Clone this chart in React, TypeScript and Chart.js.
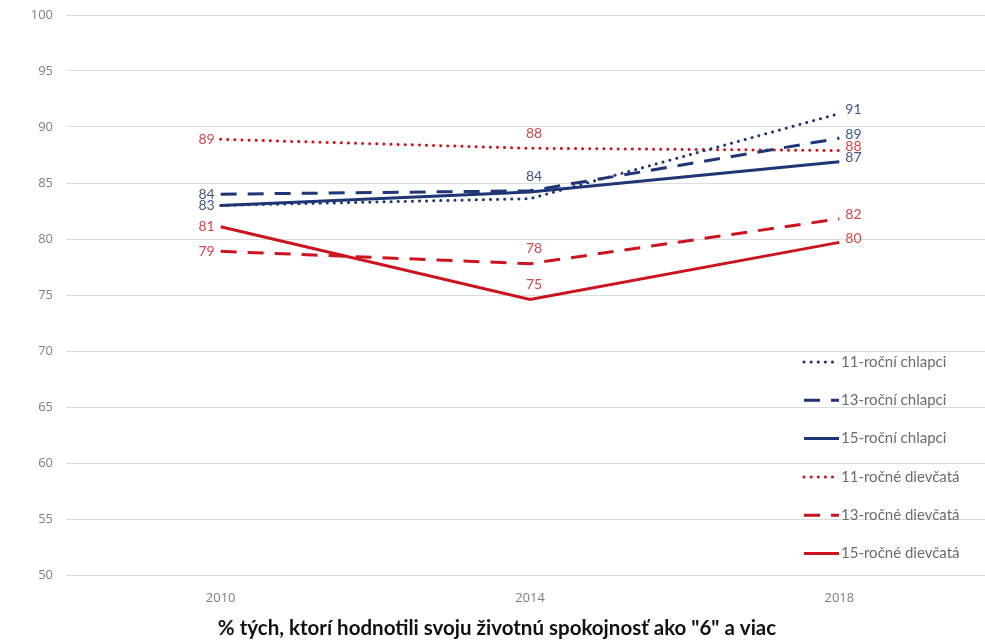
import React, { useEffect, useRef } from "react";
import { Chart, registerables } from "chart.js";

Chart.register(...registerables);

const years = ["2010", "2014", "2018"];
const seriesNames = [
  "11-roční chlapci",
  "13-roční chlapci",
  "15-roční chlapci",
  "11-ročné dievčatá",
  "13-ročné dievčatá",
  "15-ročné dievčatá",
];
const boys11 = [83.0, 83.6, 91.2];
const boys13 = [84.0, 84.3, 89.0];
const boys15 = [83.0, 84.2, 86.9];
const girls11 = [88.9, 88.1, 87.9];
const girls13 = [78.9, 77.8, 81.8];
const girls15 = [81.1, 74.6, 79.7];
const showBoys11 = [false, false, true];
const showBoys13 = [true, false, true];
const showBoys15 = [true, true, true];
const showGirls11 = [true, true, true];
const showGirls13 = [true, true, true];
const showGirls15 = [true, true, true];
const yTicks = [50, 55, 60, 65, 70, 75, 80, 85, 90, 95, 100];
const titleText = '% tých, ktorí hodnotili svoju životnú spokojnosť ako "6" a viac';

const NAVY = "#1f3676";
const RED = "#cc1420";
const NAVY_LBL = "#40558a";
const RED_LBL = "#d6434a";
const DOT = [0.1, 7];
const DASH = [16, 11];

const valueLabels = {
  id: "valueLabels",
  afterDatasetsDraw(chart: any) {
    const ctx = chart.ctx;
    ctx.save();
    ctx.font = '14px Lato';
    chart.data.datasets.forEach((ds: any, di: number) => {
      const meta = chart.getDatasetMeta(di);
      meta.data.forEach((pt: any, i: number) => {
        if (!ds.showLabels[i]) return;
        const txt = String(Math.round(ds.data[i]));
        ctx.fillStyle = ds.labelColor;
        if (i === 0) {
          ctx.textAlign = "right";
          ctx.textBaseline = "middle";
          ctx.fillText(txt, pt.x - 6, pt.y);
        } else if (i === 1) {
          ctx.textAlign = "center";
          ctx.textBaseline = "bottom";
          ctx.fillText(txt, pt.x + 4, pt.y - 8);
        } else {
          ctx.textAlign = "left";
          ctx.textBaseline = "middle";
          ctx.fillText(txt, pt.x + 6, pt.y - 4);
        }
      });
    });
    ctx.restore();
  },
};

const customLegend = {
  id: "customLegend",
  afterDatasetsDraw(chart: any) {
    const ctx = chart.ctx;
    const area = chart.chartArea;
    const x0 = area.right - 190;
    const y0 = area.bottom - 213;
    const step = 38.3;
    ctx.save();
    chart.data.datasets.forEach((ds: any, di: number) => {
      const y = y0 + di * step;
      ctx.beginPath();
      ctx.strokeStyle = ds.borderColor;
      ctx.lineWidth = ds.borderWidth;
      ctx.lineCap = ds.borderCapStyle;
      ctx.setLineDash(ds.borderDash || []);
      ctx.moveTo(x0, y);
      ctx.lineTo(x0 + 35, y);
      ctx.stroke();
      ctx.setLineDash([]);
      ctx.fillStyle = "#6b6b6b";
      ctx.font = "15px Lato";
      ctx.textAlign = "left";
      ctx.textBaseline = "middle";
      ctx.fillText(ds.label, x0 + 37, y);
    });
    ctx.restore();
  },
};

export default function App() {
  const ref = useRef<HTMLCanvasElement | null>(null);
  useEffect(() => {
    if (!ref.current) return;
    const mk = (label: string, data: number[], color: string, lbl: string, dash: number[], cap: string, show: boolean[]) => ({
      label,
      data,
      borderColor: color,
      backgroundColor: color,
      borderWidth: 3,
      borderDash: dash,
      borderCapStyle: cap,
      pointRadius: 0,
      tension: 0,
      fill: false,
      labelColor: lbl,
      showLabels: show,
    });
    const chart = new Chart(ref.current, {
      type: "line",
      data: {
        labels: years,
        datasets: [
          mk(seriesNames[0], boys11, NAVY, NAVY_LBL, DOT, "round", showBoys11),
          mk(seriesNames[1], boys13, NAVY, NAVY_LBL, DASH, "butt", showBoys13),
          mk(seriesNames[2], boys15, NAVY, NAVY_LBL, [], "butt", showBoys15),
          mk(seriesNames[3], girls11, RED, RED_LBL, DOT, "round", showGirls11),
          mk(seriesNames[4], girls13, RED, RED_LBL, DASH, "butt", showGirls13),
          mk(seriesNames[5], girls15, RED, RED_LBL, [], "butt", showGirls15),
        ] as any,
      },
      options: {
        responsive: false,
        animation: false,
        layout: { padding: { left: 0, top: 15, right: 1, bottom: 0 } },
        plugins: {
          legend: { display: false },
          tooltip: { enabled: false },
          title: {
            display: true,
            position: "bottom",
            text: titleText,
            color: "#111111",
            font: { family: "Lato", size: 20.5, weight: "bold", lineHeight: 1.2 },
            padding: { top: 0, bottom: 1 },
          },
        },
        scales: {
          x: {
            offset: true,
            grid: { display: false, drawTicks: false },
            border: { display: false },
            ticks: { color: "#7f7f7f", font: { family: "Open Sans", size: 13 }, padding: 15 },
            afterFit: (s: any) => { s.height = 41.4; },
          },
          y: {
            min: 50,
            max: 100,
            afterBuildTicks: (s: any) => { s.ticks = yTicks.map((v) => ({ value: v })); },
            grid: { color: "#dcdcdc", lineWidth: 1, drawTicks: false },
            border: { display: false },
            ticks: { color: "#7f7f7f", font: { family: "Open Sans", size: 13 }, padding: 13 },
            afterFit: (s: any) => { s.width = 66; s.paddingTop = 0; s.paddingBottom = 0; },
          },
        },
      },
      plugins: [valueLabels, customLegend],
    });
    return () => chart.destroy();
  }, []);
  return (
    <div style={{ position: "fixed", left: 0, top: 0, width: 985, height: 642, overflow: "hidden", background: "#fff" }}>
      <canvas ref={ref} width={995} height={642} style={{ display: "block" }} />
    </div>
  );
}
